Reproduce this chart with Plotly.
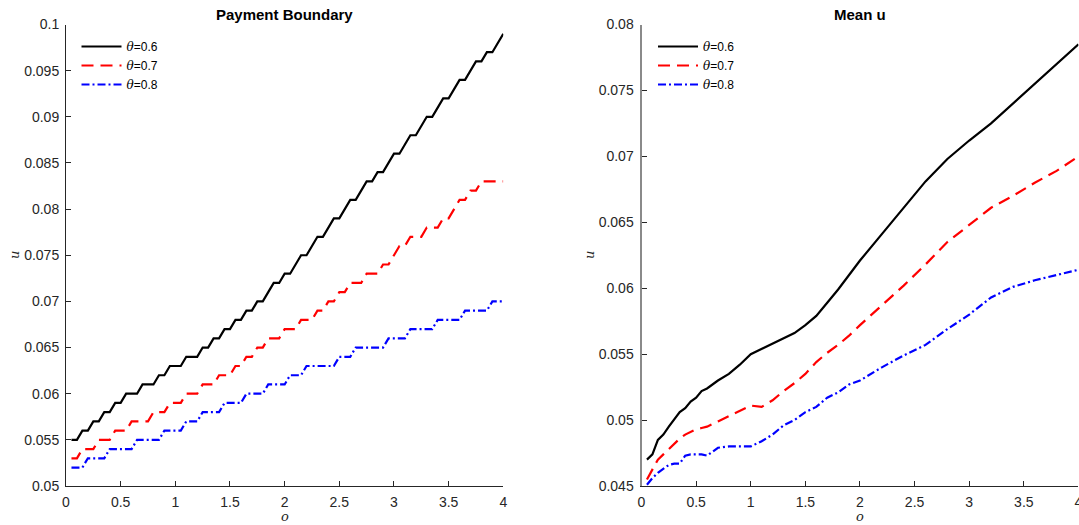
import numpy as np
import plotly.graph_objects as go

# ---------------- data ----------------
# Payment Boundary (left panel), x grid 0.05 .. 4.0
pb_x = [round(0.05 * k, 2) for k in range(1, 81)]
pb_06 = [0.055, 0.055, 0.056, 0.056, 0.057, 0.057, 0.058, 0.058, 0.059, 0.059,
         0.060, 0.060, 0.060, 0.061, 0.061, 0.061, 0.062, 0.062, 0.063, 0.063,
         0.063, 0.064, 0.064, 0.064, 0.065, 0.065, 0.066, 0.066, 0.067, 0.067,
         0.068, 0.068, 0.069, 0.069, 0.070, 0.070, 0.071, 0.072, 0.072, 0.073,
         0.073, 0.074, 0.075, 0.075, 0.076, 0.077, 0.077, 0.078, 0.079, 0.079,
         0.080, 0.081, 0.081, 0.082, 0.083, 0.083, 0.084, 0.084, 0.085, 0.086,
         0.086, 0.087, 0.088, 0.088, 0.089, 0.090, 0.090, 0.091, 0.092, 0.092,
         0.093, 0.094, 0.094, 0.095, 0.096, 0.096, 0.097, 0.097, 0.098, 0.099]
pb_07 = [0.053, 0.053, 0.054, 0.054, 0.054, 0.055, 0.055, 0.055, 0.056, 0.056,
         0.056, 0.057, 0.057, 0.057, 0.057, 0.058, 0.058, 0.058, 0.059, 0.059,
         0.059, 0.060, 0.060, 0.060, 0.061, 0.061, 0.061, 0.062, 0.062, 0.062,
         0.063, 0.063, 0.064, 0.064, 0.065, 0.065, 0.066, 0.066, 0.066, 0.067,
         0.067, 0.067, 0.068, 0.068, 0.068, 0.069, 0.069, 0.070, 0.070, 0.071,
         0.071, 0.072, 0.072, 0.072, 0.073, 0.073, 0.073, 0.074, 0.074, 0.075,
         0.076, 0.076, 0.077, 0.077, 0.077, 0.078, 0.078, 0.078, 0.079, 0.079,
         0.080, 0.081, 0.081, 0.082, 0.082, 0.083, 0.083, 0.083, 0.083, 0.083]
pb_08 = [0.052, 0.052, 0.052, 0.053, 0.053, 0.053, 0.053, 0.054, 0.054, 0.054,
         0.054, 0.054, 0.055, 0.055, 0.055, 0.055, 0.055, 0.056, 0.056, 0.056,
         0.056, 0.057, 0.057, 0.057, 0.058, 0.058, 0.058, 0.058, 0.059, 0.059,
         0.059, 0.059, 0.060, 0.060, 0.060, 0.060, 0.061, 0.061, 0.061, 0.061,
         0.062, 0.062, 0.062, 0.063, 0.063, 0.063, 0.063, 0.063, 0.063, 0.064,
         0.064, 0.064, 0.065, 0.065, 0.065, 0.065, 0.065, 0.065, 0.066, 0.066,
         0.066, 0.066, 0.067, 0.067, 0.067, 0.067, 0.067, 0.068, 0.068, 0.068,
         0.068, 0.068, 0.069, 0.069, 0.069, 0.069, 0.069, 0.070, 0.070, 0.070]

# Mean u (right panel)
mu_x = [0.05, 0.10, 0.15, 0.20, 0.25, 0.30, 0.35, 0.40, 0.45, 0.50, 0.55, 0.60,
        0.70, 0.80, 0.90, 1.00, 1.10, 1.20, 1.30, 1.40, 1.50, 1.60, 1.70, 1.80,
        1.90, 2.00, 2.20, 2.40, 2.60, 2.80, 3.00, 3.20, 3.40, 3.60, 3.80, 4.00]
mu_06 = [0.0470, 0.0474, 0.0485, 0.0489, 0.0495, 0.0501, 0.0506, 0.0509, 0.0514,
         0.0517, 0.0522, 0.0524, 0.0530, 0.0535, 0.0542, 0.0550, 0.0554, 0.0558,
         0.0562, 0.0566, 0.0572, 0.0579, 0.0589, 0.0599, 0.0610, 0.0621, 0.0641,
         0.0661, 0.0681, 0.0698, 0.0712, 0.0725, 0.0740, 0.0755, 0.0770, 0.0785]
mu_07 = [0.0455, 0.0462, 0.0470, 0.0474, 0.0478, 0.0482, 0.0486, 0.0489, 0.0491,
         0.0493, 0.0494, 0.0495, 0.0499, 0.0503, 0.0507, 0.0511, 0.0510, 0.0515,
         0.0522, 0.0528, 0.0535, 0.0544, 0.0551, 0.0557, 0.0564, 0.0572, 0.0587,
         0.0602, 0.0618, 0.0635, 0.0648, 0.0661, 0.0670, 0.0680, 0.0689, 0.0700]
mu_08 = [0.0451, 0.0456, 0.0460, 0.0463, 0.0466, 0.0467, 0.0467, 0.0473, 0.0474,
         0.0474, 0.0474, 0.0473, 0.0479, 0.0480, 0.0480, 0.0480, 0.0484, 0.0489,
         0.0496, 0.0500, 0.0506, 0.0510, 0.0517, 0.0521, 0.0527, 0.0530, 0.0540,
         0.0549, 0.0557, 0.0569, 0.0580, 0.0593, 0.0601, 0.0606, 0.0610, 0.0614]

series_names = ["0.6", "0.7", "0.8"]
x_ticks = [0, 0.5, 1, 1.5, 2, 2.5, 3, 3.5, 4]
x_ticktext = ["0", "0.5", "1", "1.5", "2", "2.5", "3", "3.5", "4"]
pb_yticks = [0.05, 0.055, 0.06, 0.065, 0.07, 0.075, 0.08, 0.085, 0.09, 0.095, 0.1]
pb_yticktext = ["0.05", "0.055", "0.06", "0.065", "0.07", "0.075", "0.08",
                "0.085", "0.09", "0.095", "0.1"]
mu_yticks = [0.045, 0.05, 0.055, 0.06, 0.065, 0.07, 0.075, 0.08]
mu_yticktext = ["0.045", "0.05", "0.055", "0.06", "0.065", "0.07", "0.075", "0.08"]

# ---------------- figure ----------------
W, H = 1079, 525
def px_x(p):
    return min(1.0, p / W)
def px_y(p):
    return 1 - p / H

styles = [dict(color="black", width=2.2, dash="solid"),
          dict(color="#ff0000", width=2.2, dash="12px,7px"),
          dict(color="#0000ff", width=2.2, dash="8px,3px,2px,3px")]

fig = go.Figure()
theta = "<span style='font-family:DejaVu Serif'><i>θ</i></span>"
for ys, nm, st in zip([pb_06, pb_07, pb_08], series_names, styles):
    fig.add_trace(go.Scatter(x=pb_x, y=ys, mode="lines", line=st,
                             name=f"{theta}={nm}", xaxis="x", yaxis="y",
                             legend="legend"))
for ys, nm, st in zip([mu_06, mu_07, mu_08], series_names, styles):
    fig.add_trace(go.Scatter(x=mu_x, y=ys, mode="lines", line=st,
                             name=f"{theta}={nm}", xaxis="x2", yaxis="y2",
                             legend="legend2"))

axcol = "#262626"
tickfont = dict(family="Liberation Sans, Arial, sans-serif", size=14, color=axcol)
common_x = dict(range=[0, 4], tickvals=x_ticks, ticktext=x_ticktext, ticks="inside",
                ticklen=5, tickcolor=axcol, showline=True, linecolor=axcol,
                linewidth=1, showgrid=False, zeroline=False, tickfont=tickfont,
                mirror=False, automargin=False, ticklabelstandoff=3,
                ticklabeloverflow="allow")
common_y = dict(ticks="inside", ticklen=5, tickcolor=axcol, showline=True,
                showgrid=False, zeroline=False, tickfont=tickfont, automargin=False,
                ticklabelstandoff=3)

legfont = dict(family="Liberation Sans, Arial", size=12, color="black")
fig.update_layout(
    width=W, height=H, autosize=False,
    margin=dict(l=0, r=0, t=0, b=0, pad=0, autoexpand=False),
    paper_bgcolor="white", plot_bgcolor="white",
    xaxis=dict(domain=[px_x(66), px_x(503.3)], anchor="y", **common_x),
    yaxis=dict(domain=[px_y(486), px_y(24.5)], anchor="x", range=[0.05, 0.1],
               tickvals=pb_yticks, ticktext=pb_yticktext, linecolor=axcol,
               linewidth=1, **common_y),
    xaxis2=dict(domain=[px_x(641.5), 0.9995], anchor="y2", **common_x),
    yaxis2=dict(domain=[px_y(486), px_y(24.5)], anchor="x2", range=[0.045, 0.08],
                tickvals=mu_yticks, ticktext=mu_yticktext, linecolor="#8a8a8a",
                linewidth=2, **common_y),
    legend=dict(x=px_x(76.5), y=px_y(32), xanchor="left", yanchor="top",
                bgcolor="rgba(0,0,0,0)", font=legfont, tracegroupgap=0, itemwidth=40),
    legend2=dict(x=px_x(653), y=px_y(32), xanchor="left", yanchor="top",
                 bgcolor="rgba(0,0,0,0)", font=legfont, tracegroupgap=0, itemwidth=40),
    showlegend=True,
)

titlefont = dict(family="Liberation Sans, Arial, sans-serif", size=15, color="black")
labfont = dict(family="DejaVu Serif, serif", size=13, color=axcol)
annos = [
    dict(text="<b>Payment Boundary</b>", x=px_x(284.7), y=px_y(14.5), font=titlefont,
         yanchor="middle"),
    dict(text="<b>Mean u</b>", x=px_x(860), y=px_y(14.5), font=titlefont,
         yanchor="middle"),
    dict(text="<i>o</i>", x=px_x(284.7), y=0, font=labfont, yanchor="bottom",
         borderpad=0),
    dict(text="<i>o</i>", x=px_x(860), y=0, font=labfont, yanchor="bottom",
         borderpad=0),
    dict(text="<i>u</i>", x=px_x(14), y=px_y(255), font=labfont, textangle=-90,
         yanchor="middle"),
    dict(text="<i>u</i>", x=px_x(589), y=px_y(255), font=labfont, textangle=-90,
         yanchor="middle"),
]
for a in annos:
    fig.add_annotation(xref="paper", yref="paper", showarrow=False,
                       xanchor="center", **a)

# remove the browser's default 8px body margin so the figure fills the window
fig.write_html("out.html", config={"displayModeBar": False},
               post_script="document.body.style.margin='0px';")
